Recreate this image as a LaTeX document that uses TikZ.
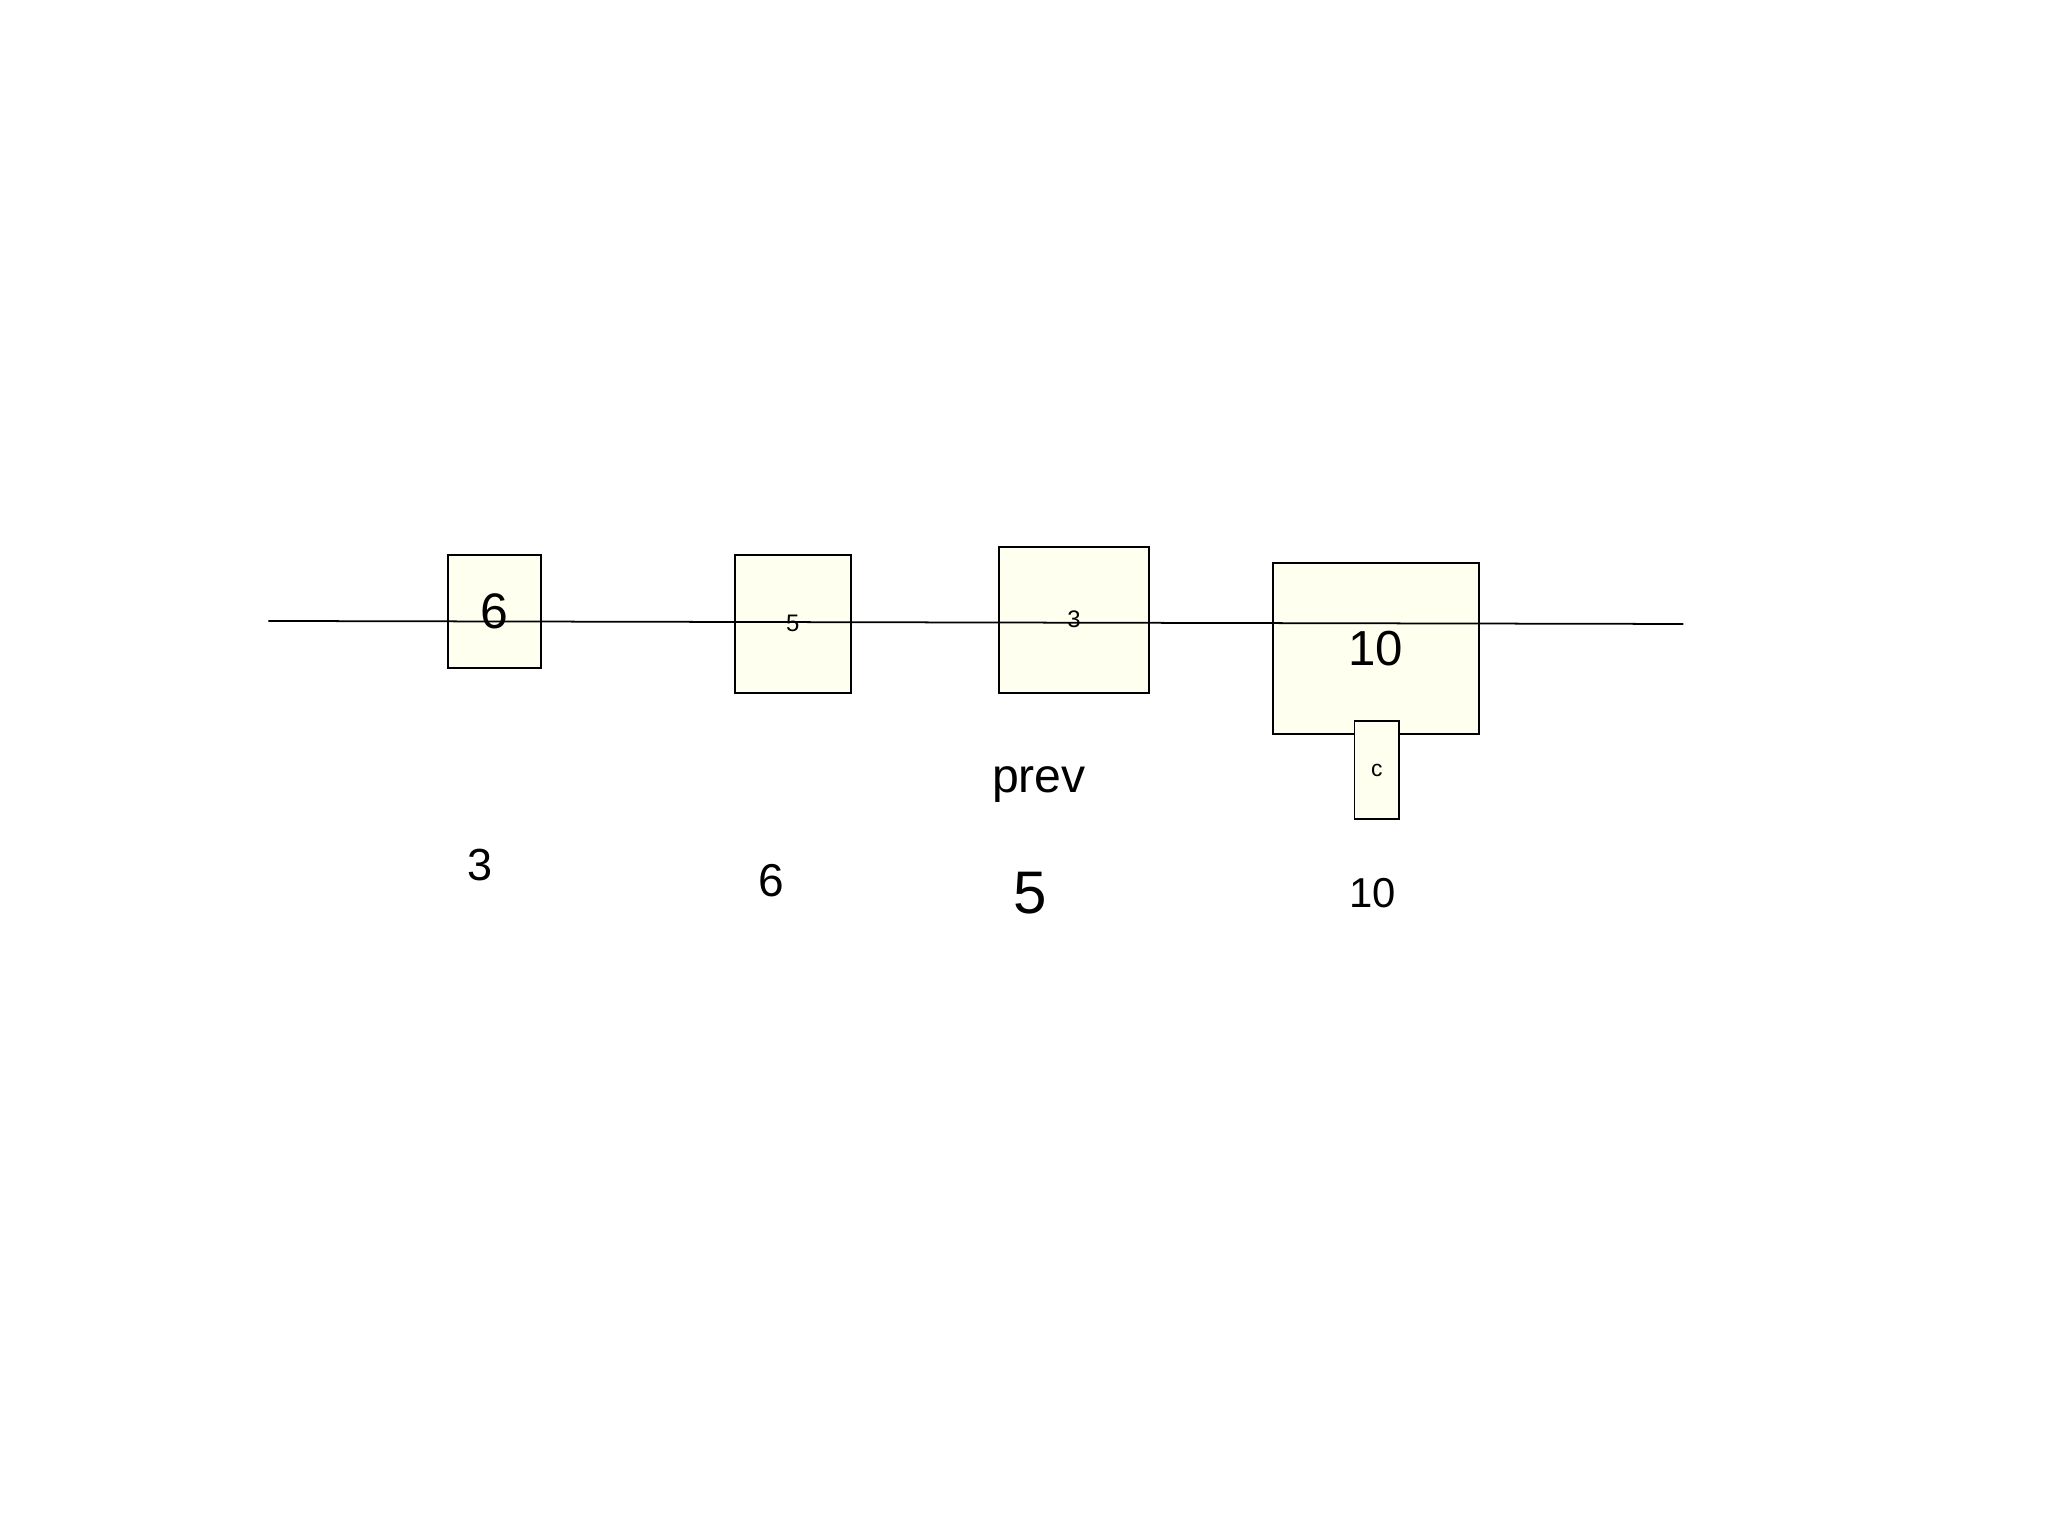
\documentclass[tikz,border=0pt]{standalone}
\usepackage{fontspec}
\setmainfont{Liberation Sans}
\definecolor{cellyel}{RGB}{255,255,240}
\newcommand{\fs}[1]{\fontsize{#1}{#1}\selectfont}

\begin{document}
\begin{tikzpicture}[cell/.style={draw,line width=0.5pt,fill=cellyel,inner sep=0pt}]
  \useasboundingbox (0,0) rectangle (20.48,15.36);
  \node[cell,minimum width=0.927cm,minimum height=1.133cm] (b1) at (4.946,9.243) {};
  \node[cell,minimum width=1.157cm,minimum height=1.377cm] (b2) at (7.928,9.122) {};
  \node[cell,minimum width=1.503cm,minimum height=1.46cm] (b3) at (10.74,9.163) {};
  \node[cell,minimum width=2.06cm,minimum height=1.716cm] (b4) at (13.757,8.875) {};
  \node[cell,minimum width=0.444cm,minimum height=0.98cm] (cb) at (13.768,7.66) {};
  \coordinate (lstart) at (2.683,9.15);
  \coordinate (lend) at (16.834,9.12);
  \draw[line width=0.5pt] (lstart) -- (lend);
  \node (v1) at (b1) {\fs{14.2}6};
  \node (v2) at (b2) {\fs{6.8}5};
  \node (v3) at (b3) {\fs{6.8}3};
  \node (v4) at (b4) {\fs{14}10};
  \node (vc) at (cb) {\fs{6.5}c};
  \node[anchor=base] (prev) at (10.39,7.43) {\fs{13.7}prev};
  \node (n1) at (4.80,6.71) {\fs{12.8}3};
  \node (n2) at (7.717,6.55) {\fs{13.1}6};
  \node (n3) at (10.30,6.43) {\fs{17.1}5};
  \node (n4) at (13.727,6.43) {\fs{11.9}10};
\end{tikzpicture}
\end{document}
